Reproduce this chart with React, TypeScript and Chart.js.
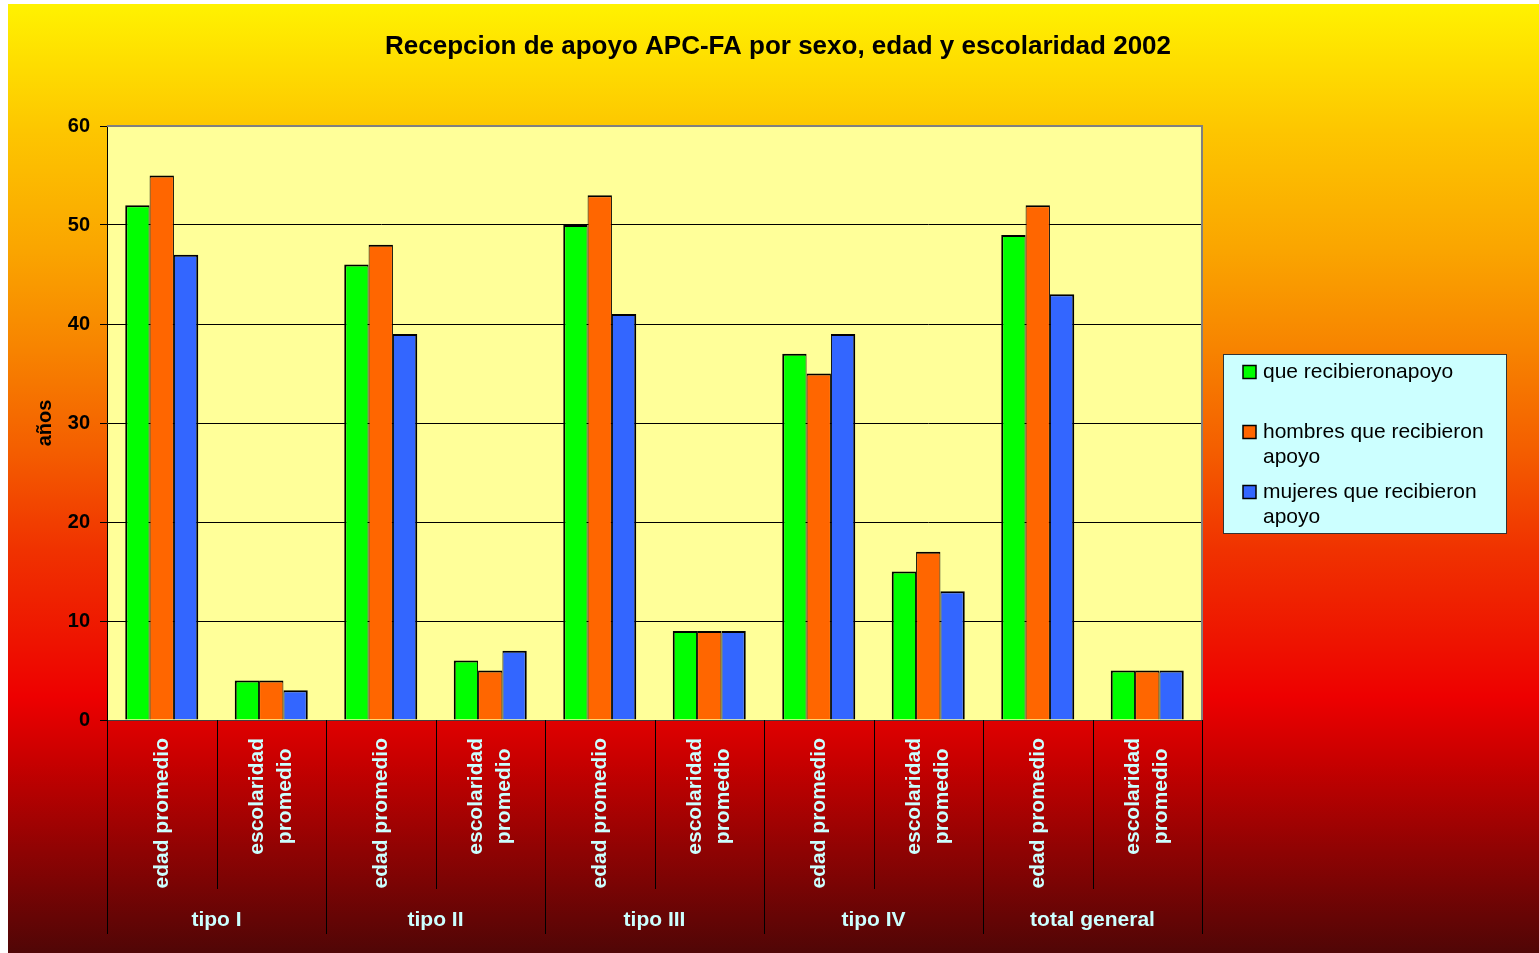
import React, { useEffect, useRef } from "react";
import { Chart, registerables } from "chart.js";

Chart.register(...registerables);

const chartTitle = "Recepcion de apoyo APC-FA por sexo, edad y escolaridad 2002";
const yAxisTitle = "años";
const groupLabels = ["tipo I", "tipo II", "tipo III", "tipo IV", "total general"];
const subLabels = [["edad promedio"], ["escolaridad", "promedio"]];
const categoryLabels = groupLabels.flatMap((g) => subLabels.map((s) => s.join(" ") + " (" + g + ")"));

const seriesNames = ["que recibieronapoyo", "hombres que recibieron apoyo", "mujeres que recibieron apoyo"];
const seriesColors = ["#00FF00", "#FF6600", "#3366FF"];
const recibieron = [52, 4, 46, 6, 50, 9, 37, 15, 49, 5];
const hombres = [55, 4, 48, 5, 53, 9, 35, 17, 52, 5];
const mujeres = [47, 3, 39, 7, 41, 9, 39, 13, 43, 5];
const yMin = 0;
const yMax = 60;
const yStep = 10;

const FONT = '"Liberation Sans", Arial, sans-serif';
const LABEL_COLOR = "#CCFFFF";

function wrapText(ctx: CanvasRenderingContext2D, text: string, maxW: number): string[] {
  const words = text.split(" ");
  const lines: string[] = [];
  let cur = "";
  for (const w of words) {
    const test = cur ? cur + " " + w : w;
    if (cur && ctx.measureText(test).width > maxW) {
      lines.push(cur);
      cur = w;
    } else {
      cur = test;
    }
  }
  if (cur) lines.push(cur);
  return lines;
}

const decorPlugin = {
  id: "decor",
  beforeDraw(chart: any) {
    const { ctx, chartArea: a } = chart;
    ctx.save();
    ctx.fillStyle = "#FFFF99";
    ctx.fillRect(a.left, a.top, a.right - a.left, a.bottom - a.top);
    ctx.restore();
  },
  afterDraw(chart: any) {
    const { ctx, chartArea: a } = chart;
    const xs = chart.scales.x;
    ctx.save();

    // plot border (top and right)
    ctx.strokeStyle = "#808080";
    ctx.lineWidth = 2;
    ctx.beginPath();
    ctx.moveTo(a.left, a.top);
    ctx.lineTo(a.right, a.top);
    ctx.lineTo(a.right, a.bottom);
    ctx.stroke();

    // title
    ctx.fillStyle = "#000";
    ctx.font = `bold 26px ${FONT}`;
    ctx.textAlign = "center";
    ctx.textBaseline = "middle";
    ctx.fillText(chartTitle, 770, 43);

    // y title
    ctx.save();
    ctx.translate(37, (a.top + a.bottom) / 2);
    ctx.rotate(-Math.PI / 2);
    ctx.font = `bold 20px ${FONT}`;
    ctx.fillText(yAxisTitle, 0, 0);
    ctx.restore();

    // separators
    const n = categoryLabels.length;
    const catW = xs.getPixelForValue(1) - xs.getPixelForValue(0);
    ctx.strokeStyle = "#000";
    ctx.lineWidth = 1;
    for (let i = 0; i <= n; i++) {
      const x = Math.round(xs.getPixelForValue(i) - catW / 2) + 0.5;
      const isGroup = i % subLabels.length === 0;
      ctx.beginPath();
      ctx.moveTo(x, a.bottom);
      ctx.lineTo(x, isGroup ? 930 : 885);
      ctx.stroke();
    }

    // category labels
    ctx.fillStyle = LABEL_COLOR;
    ctx.font = `bold 21px ${FONT}`;
    const lh = 28;
    for (let i = 0; i < n; i++) {
      const lines = subLabels[i % subLabels.length];
      const W = Math.max(...lines.map((l) => ctx.measureText(l).width));
      const x = xs.getPixelForValue(i);
      ctx.save();
      ctx.translate(x, 734);
      ctx.rotate(-Math.PI / 2);
      ctx.textAlign = "center";
      ctx.textBaseline = "middle";
      lines.forEach((l, j) => {
        ctx.fillText(l, -W / 2, (j - (lines.length - 1) / 2) * lh);
      });
      ctx.restore();
    }

    // group labels
    ctx.textAlign = "center";
    ctx.textBaseline = "middle";
    groupLabels.forEach((g, gi) => {
      const x0 = xs.getPixelForValue(gi * subLabels.length);
      const x1 = xs.getPixelForValue(gi * subLabels.length + subLabels.length - 1);
      ctx.fillText(g, (x0 + x1) / 2, 916);
    });

    // legend
    const lx = 1215, ly = 350, lw = 284, lhgt = 180;
    ctx.fillStyle = "#CCFFFF";
    ctx.fillRect(lx, ly, lw, lhgt);
    ctx.strokeStyle = "#333";
    ctx.lineWidth = 1;
    ctx.strokeRect(lx + 0.5, ly + 0.5, lw - 1, lhgt - 1);
    ctx.font = `21px ${FONT}`;
    ctx.textAlign = "left";
    ctx.textBaseline = "middle";
    chart.data.datasets.forEach((ds: any, i: number) => {
      const cy = 368 + i * 60;
      ctx.fillStyle = ds.backgroundColor;
      ctx.fillRect(1235, cy - 6.5, 13, 13);
      ctx.strokeStyle = "#000";
      ctx.lineWidth = 1.5;
      ctx.strokeRect(1235, cy - 6.5, 13, 13);
      ctx.fillStyle = "#000";
      const lines = wrapText(ctx, ds.label, 236);
      lines.forEach((l, j) => ctx.fillText(l, 1255, cy + j * 25));
    });

    ctx.restore();
  },
};

export default function App() {
  const ref = useRef<HTMLCanvasElement | null>(null);

  useEffect(() => {
    if (!ref.current) return;
    const values = [recibieron, hombres, mujeres];
    const borders = [
      { top: 2, left: 2, right: 1, bottom: 0 },
      { top: 2, left: 1, right: 1, bottom: 0 },
      { top: 2, left: 1, right: 2, bottom: 0 },
    ];
    const chart = new Chart(ref.current, {
      type: "bar",
      data: {
        labels: categoryLabels,
        datasets: values.map((v, i) => ({
          label: seriesNames[i],
          data: v,
          backgroundColor: seriesColors[i],
          borderColor: "#000",
          borderWidth: borders[i],
          borderSkipped: "bottom",
          categoryPercentage: 0.667,
          barPercentage: 1.0,
        })),
      },
      options: {
        responsive: false,
        animation: false,
        devicePixelRatio: 1,
        layout: { padding: { top: 122, right: 337, left: 0, bottom: 0 } },
        plugins: {
          legend: { display: false },
          title: { display: false },
          tooltip: { enabled: false },
        },
        scales: {
          x: {
            grid: { display: false },
            border: { display: false },
            ticks: { display: false },
            afterFit: (s: any) => {
              s.height = 233;
            },
          },
          y: {
            min: yMin,
            max: yMax,
            ticks: {
              stepSize: yStep,
              color: "#000",
              padding: 10,
              font: { family: FONT, size: 20, weight: "bold" },
            },
            grid: {
              color: (c: any) => (c.tick && c.tick.value === yMax ? "#808080" : c.tick && c.tick.value === 0 ? "#404040" : "#000"),
              tickColor: "#000",
              tickLength: 7,
              lineWidth: 1,
            },
            border: { display: true, color: "#000", width: 1 },
            afterFit: (s: any) => {
              s.width = 99;
            },
          },
        },
      },
      plugins: [decorPlugin],
    } as any);
    return () => chart.destroy();
  }, []);

  return (
    <div
      style={{
        position: "absolute",
        left: 8,
        top: 4,
        width: 1531,
        height: 949,
        background:
          "linear-gradient(to bottom, #FFF200 0%, #FDC600 13.3%, #FAA500 25.9%, #F78300 36.5%, #F45E00 47%, #F03200 57.5%, #EE1400 67%, #EE0000 73%, #C80000 79.7%, #8F0303 89.2%, #500606 100%)",
      }}
    >
      <canvas ref={ref} width={1531} height={949} style={{ display: "block" }} />
    </div>
  );
}
